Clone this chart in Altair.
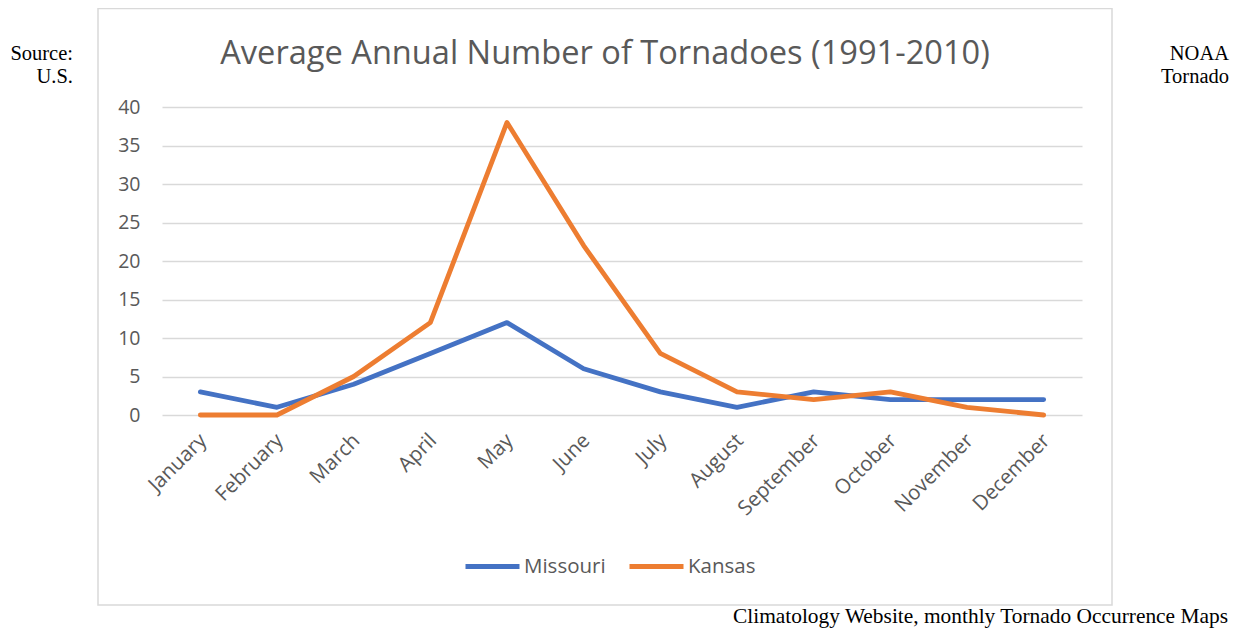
import altair as alt
import pandas as pd

months = ["January", "February", "March", "April", "May", "June", "July",
          "August", "September", "October", "November", "December"]
missouri = [3, 1, 4, 8, 12, 6, 3, 1, 3, 2, 2, 2]
kansas = [0, 0, 5, 12, 38, 22, 8, 3, 2, 3, 1, 0]
series = ["Missouri", "Kansas"]
colors = ["#4472C4", "#ED7D31"]
y_ticks = [0, 5, 10, 15, 20, 25, 30, 35, 40]
title_text = "Average Annual Number of Tornadoes (1991-2010)"

rows = []
for i, m in enumerate(months):
    rows.append({"month": m, "series": "Missouri", "value": missouri[i]})
    rows.append({"month": m, "series": "Kansas", "value": kansas[i]})
df = pd.DataFrame(rows)

W, H = 920, 308
SANS = "Open Sans"
SERIF = "Liberation Serif"

lines = alt.Chart(df).mark_line(strokeWidth=4.8, strokeCap="round", strokeJoin="round").encode(
    x=alt.X("month:N", sort=months, scale=alt.Scale(paddingInner=0, paddingOuter=0, align=0.5, type="band"),
            axis=alt.Axis(title=None, labelAngle=-45, domain=False, ticks=False, grid=False,
                          labelFont=SANS, labelFontSize=20.5, labelColor="#595959", labelPadding=15,
                          labelOffset=-4)),
    y=alt.Y("value:Q", scale=alt.Scale(domain=[0, 40], nice=False),
            axis=alt.Axis(title=None, values=y_ticks, domain=False, ticks=False, grid=True,
                          gridColor="#d9d9d9", gridWidth=1.3, labelFont=SANS, labelFontSize=19.5,
                          labelColor="#595959", labelPadding=22)),
    color=alt.Color("series:N", scale=alt.Scale(domain=series, range=colors),
                    legend=alt.Legend(title=None, orient="none", legendX=301, legendY=430,
                                      direction="horizontal", symbolType="stroke",
                                      symbolStrokeWidth=4.8, symbolSize=2916, labelFont=SANS,
                                      labelFontSize=20.5, labelColor="#595959", columnPadding=13,
                                      labelOffset=2)),
)

border = alt.Chart(pd.DataFrame({"a": [0]})).mark_rect(fill=None, stroke="#d9d9d9", strokeWidth=1.5).encode(
    x=alt.value(-64), x2=alt.value(950), y=alt.value(-98.5), y2=alt.value(498)
)

title = alt.Chart(pd.DataFrame({"t": [title_text]})).mark_text(
    font=SANS, fontSize=32.6, color="#595959", align="center", baseline="alphabetic"
).encode(text="t:N", x=alt.value(443), y=alt.value(-43))

left_txt = alt.Chart(pd.DataFrame({"t": ["Source:", "U.S."], "yy": [-47, -24]})).mark_text(
    font=SERIF, fontSize=20.5, color="#000000", align="right", baseline="alphabetic"
).encode(text="t:N", x=alt.value(-89), y=alt.Y("yy:Q", scale=None))

right_txt = alt.Chart(pd.DataFrame({"t": ["NOAA", "Tornado"], "yy": [-47, -24]})).mark_text(
    font=SERIF, fontSize=20.5, color="#000000", align="right", baseline="alphabetic"
).encode(text="t:N", x=alt.value(1067), y=alt.Y("yy:Q", scale=None))

bottom_txt = alt.Chart(pd.DataFrame({"t": ["Climatology Website, monthly Tornado Occurrence Maps"]})).mark_text(
    font=SERIF, fontSize=21.4, color="#000000", align="right", baseline="alphabetic"
).encode(text="t:N", x=alt.value(1066), y=alt.value(516))

chart = alt.layer(border, lines, title, left_txt, right_txt, bottom_txt).properties(
    width=W, height=H,
    autosize=alt.AutoSizeParams(type="none"),
    padding={"left": 154, "top": 99, "right": 148, "bottom": 217},
).configure_view(stroke=None)

chart.save("out.html", embed_options={"renderer": "svg", "actions": False})
